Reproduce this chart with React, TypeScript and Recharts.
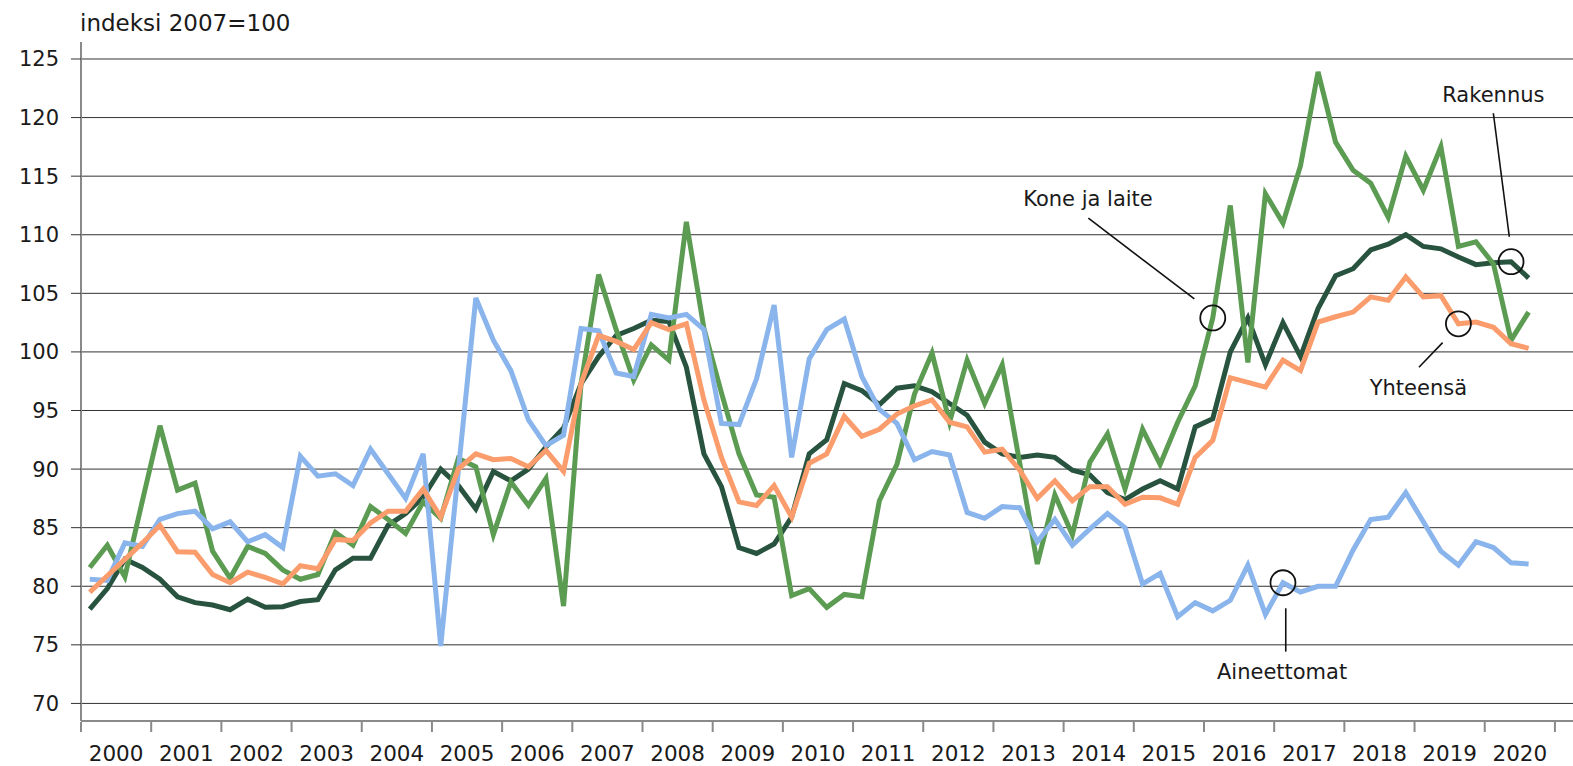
import React from 'react';
import { LineChart, Line, XAxis, YAxis, CartesianGrid, ReferenceDot, ReferenceLine } from 'recharts';

const years = [2000, 2001, 2002, 2003, 2004, 2005, 2006, 2007, 2008, 2009, 2010, 2011, 2012, 2013, 2014, 2015, 2016, 2017, 2018, 2019, 2020];

const yTicks = [70, 75, 80, 85, 90, 95, 100, 105, 110, 115, 120, 125];

// Quarterly series 2000Q1 - 2020Q3, index 2007=100
const rakennus = [
  78.05, 79.8, 82.3, 81.6, 80.6, 79.1, 78.6, 78.4, 78.0, 78.9, 78.2, 78.25, 78.7, 78.85, 81.4, 82.4,
  82.4, 85.2, 86.2, 87.6, 90.0, 88.6, 86.6, 89.8, 89.0, 90.0, 91.9, 93.5, 97.3, 99.6, 101.4, 102.0,
  102.7, 102.6, 98.7, 91.3, 88.5, 83.3, 82.8, 83.6, 85.9, 91.3, 92.5, 97.3, 96.7, 95.5, 96.9, 97.1,
  96.6, 95.6, 94.6, 92.3, 91.3, 91.0, 91.2, 91.0, 89.9, 89.5, 88.0, 87.4, 88.3, 89.0, 88.3, 93.6,
  94.3, 100.0, 102.9, 98.9, 102.5, 99.6, 103.7, 106.5, 107.1, 108.7, 109.2, 110.0, 109.0, 108.8, 108.1, 107.45,
  107.6, 107.7, 106.3,
];

const koneJaLaite = [
  81.6, 83.5, 80.8, 87.3, 93.7, 88.2, 88.8, 83.0, 80.7, 83.4, 82.8, 81.4, 80.6, 81.0, 84.6, 83.5,
  86.8, 85.7, 84.5, 87.2, 85.8, 90.9, 90.2, 84.4, 88.9, 86.9, 89.2, 78.3, 97.3, 106.6, 101.9, 97.6,
  100.6, 99.3, 111.1, 102.0, 96.5, 91.3, 87.8, 87.6, 79.2, 79.8, 78.2, 79.3, 79.1, 87.3, 90.4, 96.4,
  99.9, 94.0, 99.3, 95.6, 98.9, 90.5, 81.9, 87.8, 84.4, 90.6, 93.0, 88.3, 93.4, 90.4, 94.0, 97.1,
  102.9, 112.5, 99.1, 113.5, 111.0, 115.9, 123.9, 117.9, 115.5, 114.4, 111.5, 116.7, 113.8, 117.5, 109.0, 109.4,
  107.5, 101.0, 103.4,
];

const aineettomat = [
  80.6, 80.5, 83.7, 83.4, 85.7, 86.2, 86.4, 84.9, 85.5, 83.8, 84.4, 83.3, 91.1, 89.4, 89.6, 88.6,
  91.7, 89.6, 87.5, 91.3, 74.9, 89.8, 104.6, 101.0, 98.4, 94.2, 92.0, 92.9, 102.0, 101.8, 98.2, 97.9,
  103.2, 102.9, 103.2, 101.9, 93.9, 93.8, 97.7, 104.0, 91.0, 99.4, 101.9, 102.8, 97.9, 95.1, 93.9, 90.8,
  91.5, 91.2, 86.3, 85.8, 86.8, 86.7, 83.8, 85.7, 83.5, 84.9, 86.2, 85.0, 80.2, 81.1, 77.4, 78.6,
  77.9, 78.8, 81.8, 77.6, 80.3, 79.5, 80.0, 80.0, 83.1, 85.7, 85.9, 88.0, 85.5, 83.0, 81.8, 83.8,
  83.3, 82.0, 81.9,
];

const yhteensa = [
  79.5, 80.9, 82.3, 83.7, 85.2, 82.95, 82.9, 81.0, 80.3, 81.2, 80.75, 80.2, 81.75, 81.5, 84.0, 83.9,
  85.4, 86.4, 86.4, 88.3, 85.9, 90.0, 91.3, 90.8, 90.9, 90.2, 91.6, 89.8, 97.3, 101.4, 100.9, 100.2,
  102.5, 101.9, 102.4, 95.9, 91.0, 87.2, 86.9, 88.6, 85.9, 90.5, 91.3, 94.5, 92.8, 93.4, 94.7, 95.4,
  95.9, 94.0, 93.6, 91.45, 91.7, 89.9, 87.5, 89.0, 87.3, 88.5, 88.5, 87.0, 87.6, 87.55, 87.0, 91.0,
  92.45, 97.8, 97.4, 97.0, 99.3, 98.4, 102.55, 103.0, 103.4, 104.7, 104.4, 106.4, 104.7, 104.8, 102.4, 102.55,
  102.1, 100.7, 100.3,
];

// Annotations: circle on a series point (quarter index), connector segment and label (data coordinates)
const annotations = [
  { text: 'Kone ja laite', series: 'kone', idx: 64, line: [[57.41, 111.41], [63.45, 104.52]], label: [57.39, 112.48] },
  { text: 'Rakennus', series: 'rakennus', idx: 81, line: [[80.49, 120.37], [81.4, 109.83]], label: [80.49, 121.36] },
  { text: 'Yhteensä', series: 'yhteensa', idx: 78, line: [[77.6, 100.79], [76.25, 98.69]], label: [76.22, 96.33] },
  { text: 'Aineettomat', series: 'aineettomat', idx: 68, line: [[68.66, 78.12], [68.66, 74.42]], label: [68.45, 72.09] },
];

const data = rakennus.map((_, i) => ({
  q: i + 0.5,
  rakennus: rakennus[i],
  kone: koneJaLaite[i],
  aineettomat: aineettomat[i],
  yhteensa: yhteensa[i],
}));

const boundaryTicks = [...years.map((_, k) => k * 4), years.length * 4];
const labelTicks = years.map((_, k) => k * 4 + 2);
const xTicks = [...boundaryTicks, ...labelTicks].sort((a, b) => a - b);

const FONT = "'DejaVu Sans', 'Noto Sans', sans-serif";
const TEXT = '#1a1a1a';
const AXIS = '#8a8a8a';
const GRID = '#333333';

const XTick = (props: any) => {
  const { x, y, payload } = props;
  const v = payload.value as number;
  if (v % 4 === 0) {
    return <line x1={x} x2={x} y1={y + 1} y2={y + 11} stroke={AXIS} strokeWidth={2} />;
  }
  const year = years[(v - 2) / 4];
  return (
    <text x={x} y={y + 39.5} textAnchor="middle" fontSize={21.5} fontFamily={FONT} fill={TEXT}>
      {year}
    </text>
  );
};

const seriesValues: Record<string, number[]> = {
  rakennus,
  kone: koneJaLaite,
  aineettomat,
  yhteensa,
};

export default function App() {
  return (
    <div style={{ position: 'absolute', left: 0, top: 0, width: 1573, height: 766, background: '#fff' }}>
      <LineChart
        width={1573}
        height={766}
        data={data}
        margin={{ top: 42, right: 0, bottom: 0, left: 1 }}
      >
        <CartesianGrid vertical={false} horizontalValues={yTicks} stroke={GRID} strokeWidth={1} />
        <XAxis
          type="number"
          dataKey="q"
          domain={[0, 85.03]}
          ticks={xTicks}
          interval={0}
          tickLine={false}
          tickSize={0}
          tickMargin={0}
          height={45}
          axisLine={{ stroke: AXIS, strokeWidth: 2 }}
          tick={<XTick />}
          allowDataOverflow
        />
        <YAxis
          type="number"
          domain={[68.5, 126.45]}
          ticks={yTicks}
          interval={0}
          width={80}
          tickSize={10}
          tickMargin={12}
          axisLine={{ stroke: AXIS, strokeWidth: 2 }}
          tickLine={{ stroke: GRID, strokeWidth: 1 }}
          tick={{ fill: TEXT, fontSize: 21, fontFamily: FONT }}
          allowDataOverflow
        />
        <Line type="linear" dataKey="rakennus" stroke="#27533f" strokeWidth={5} dot={false} isAnimationActive={false} />
        <Line type="linear" dataKey="kone" stroke="#5b9b52" strokeWidth={5} dot={false} isAnimationActive={false} />
        <Line type="linear" dataKey="aineettomat" stroke="#8ab4ec" strokeWidth={5} dot={false} isAnimationActive={false} />
        <Line type="linear" dataKey="yhteensa" stroke="#fa9c6b" strokeWidth={5} dot={false} isAnimationActive={false} />
        {annotations.map((a) => (
          <ReferenceLine
            key={a.text + '-line'}
            segment={[{ x: a.line[0][0], y: a.line[0][1] }, { x: a.line[1][0], y: a.line[1][1] }]}
            stroke="#111"
            strokeWidth={1.6}
          />
        ))}
        {annotations.map((a) => (
          <ReferenceDot
            key={a.text + '-circle'}
            x={a.idx + 0.5}
            y={seriesValues[a.series][a.idx]}
            r={12.5}
            fill="none"
            stroke="#111"
            strokeWidth={1.8}
          />
        ))}
        {annotations.map((a) => (
          <ReferenceDot
            key={a.text + '-label'}
            x={a.label[0]}
            y={a.label[1]}
            r={0}
            shape={(p: any) => (
              <text x={p.cx} y={p.cy} textAnchor="middle" fontSize={21} fontFamily={FONT} fill={TEXT}>
                {a.text}
              </text>
            )}
          />
        ))}
      </LineChart>
      <svg width={1573} height={40} style={{ position: 'absolute', left: 0, top: 0, pointerEvents: 'none' }}>
        <text x={80} y={31} fontSize={23} fontFamily={FONT} fill={TEXT}>
          indeksi 2007=100
        </text>
      </svg>
    </div>
  );
}
